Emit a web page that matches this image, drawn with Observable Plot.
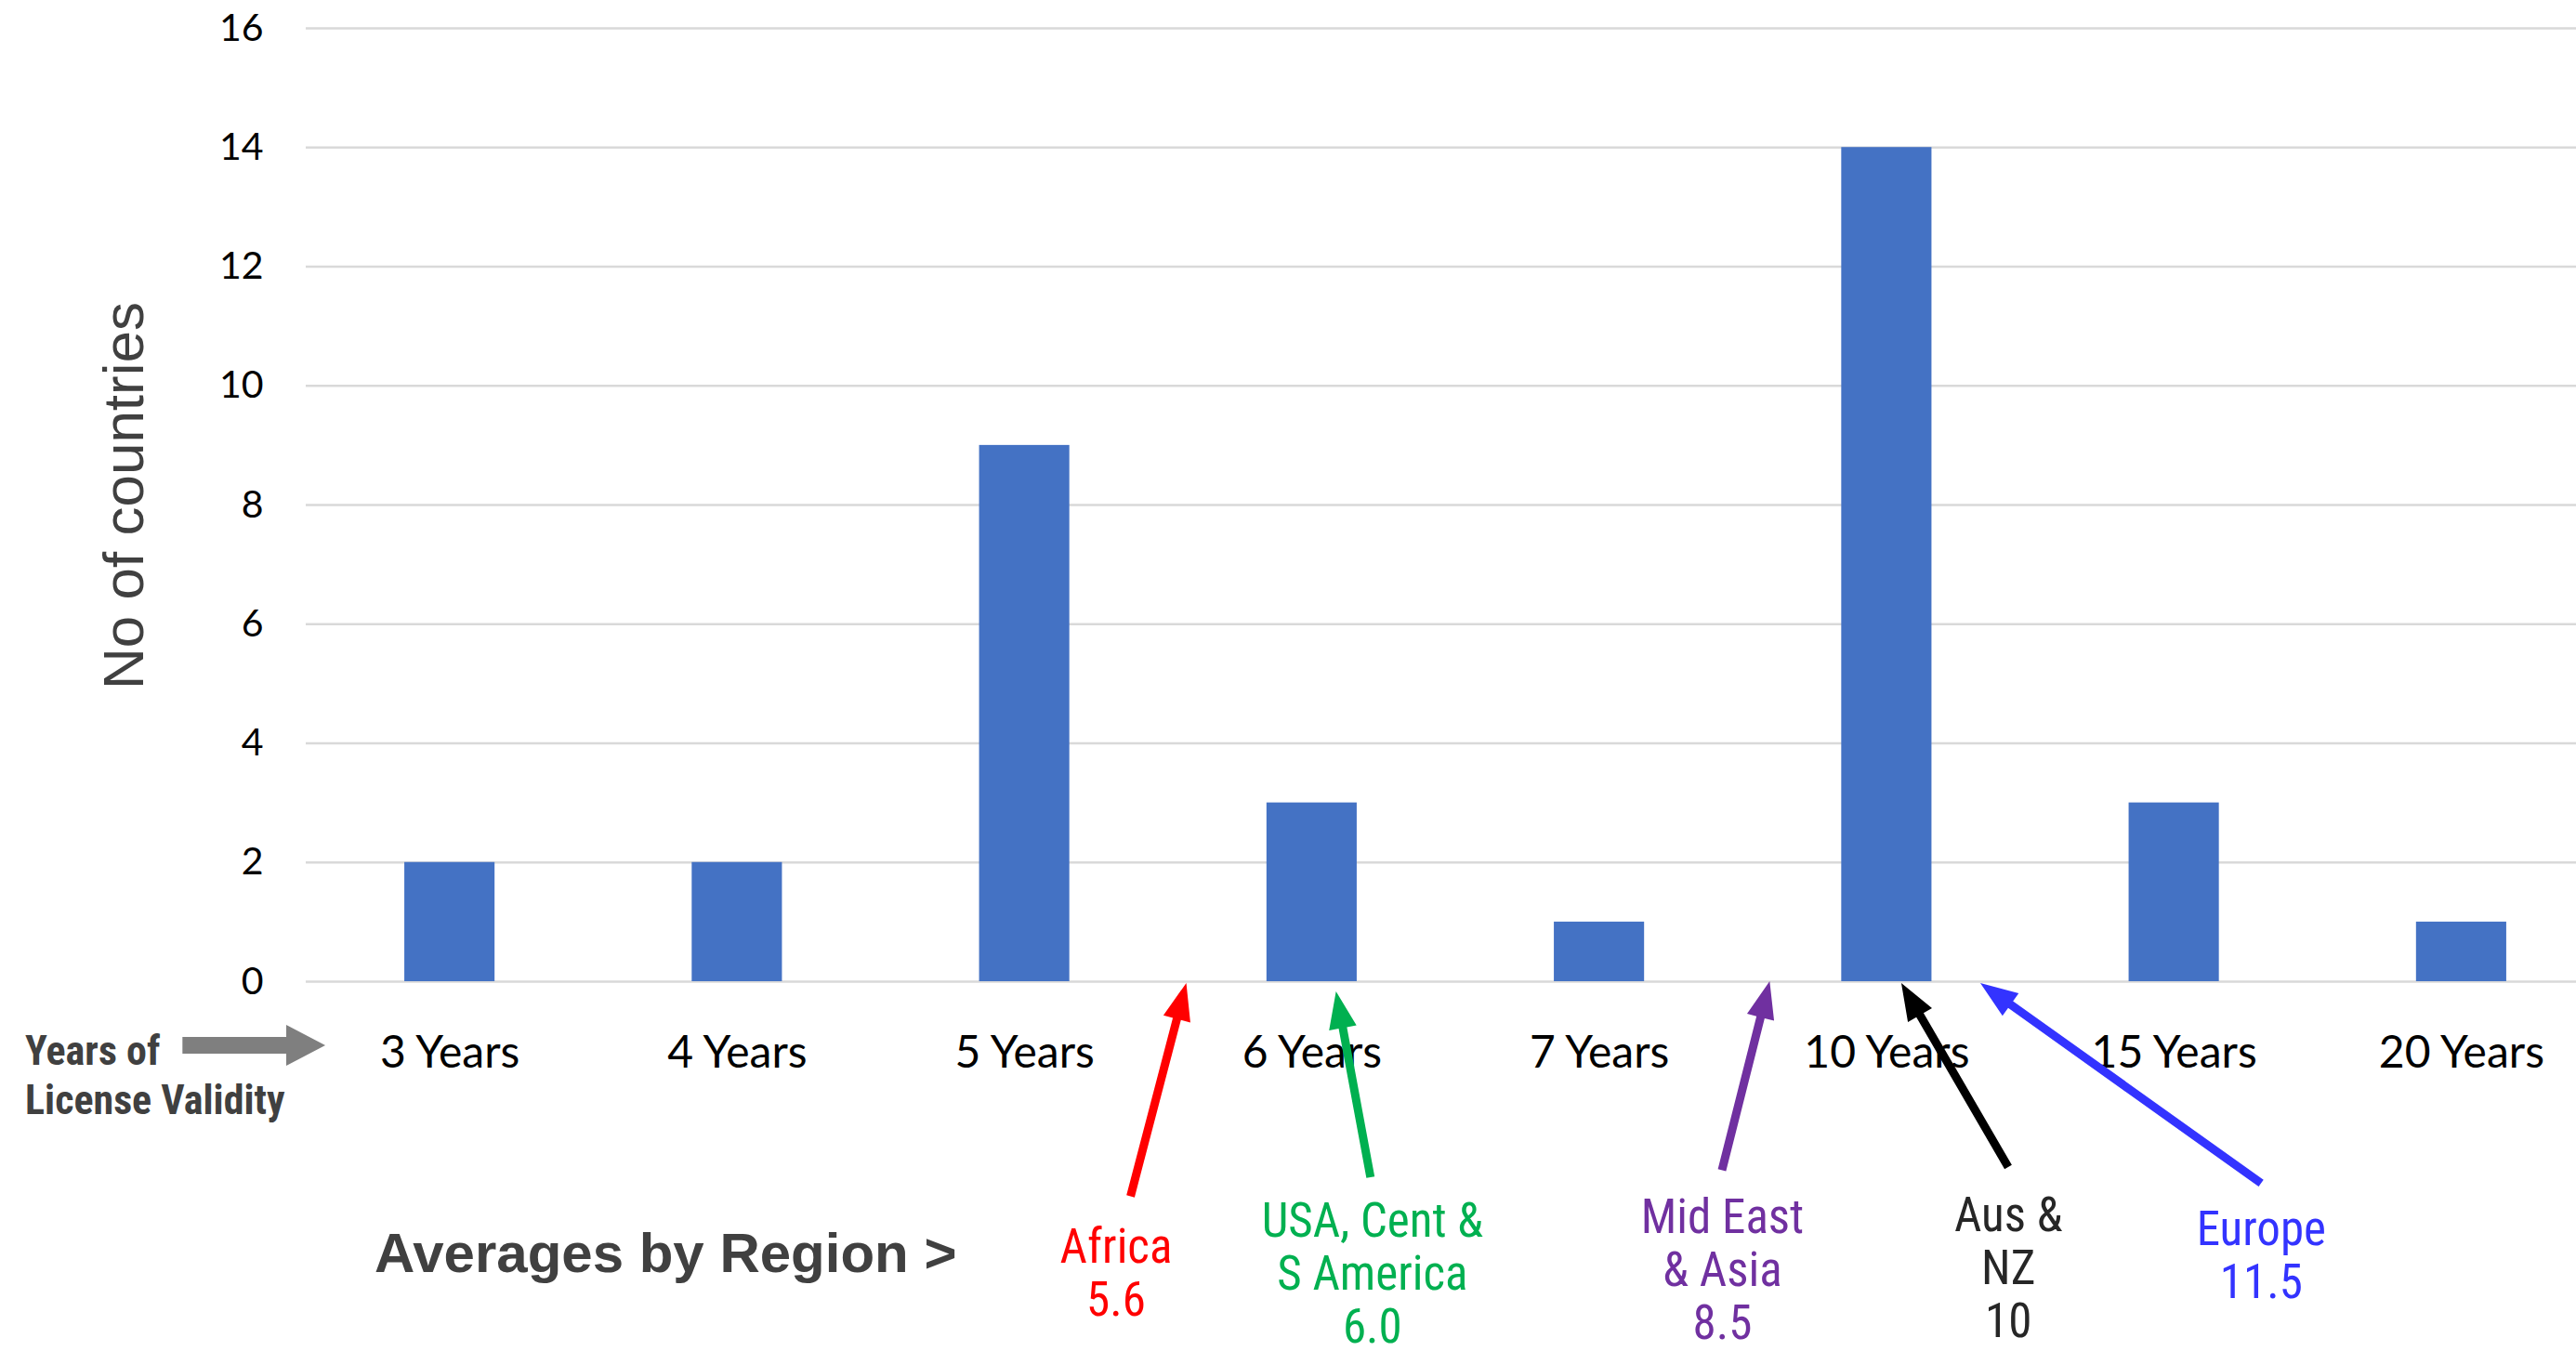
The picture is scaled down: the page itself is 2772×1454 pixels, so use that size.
<!DOCTYPE html>
<html>
<head>
<meta charset="utf-8">
<script src="https://cdn.jsdelivr.net/npm/d3@7"></script>
<script src="https://cdn.jsdelivr.net/npm/@observablehq/plot@0.6"></script>
<style>
html, body { margin: 0; padding: 0; background: #fff; }
#chart svg { display: block; }
</style>
</head>
<body>
<div id="chart"></div>
<script>
// ---- data ----
const categories = ["3 Years", "4 Years", "5 Years", "6 Years", "7 Years", "10 Years", "15 Years", "20 Years"];
const counts = [2, 2, 9, 3, 1, 14, 3, 1];
const yTicks = [0, 2, 4, 6, 8, 10, 12, 14, 16];
const yTitle = "No of countries";
const xTitle = "Years of\nLicense Validity";
const regionTitle = "Averages by Region >";
const regionNames = ["Africa", "USA, Cent &\nS America", "Mid East\n& Asia", "Aus &\nNZ", "Europe"];
const regionAverages = ["5.6", "6.0", "8.5", "10", "11.5"];

// ---- annotation anchors in chart units (x: category index, y: count) ----
const regionTipX = [2.564, 3.085, 4.594, 5.052, 5.327];
const regionTipY = [-0.03, -0.17, 0.0, -0.03, -0.03];
const regionTailX = [2.370, 3.205, 4.428, 5.424, 6.304];
const regionTailY = [-3.61, -3.29, -3.17, -3.12, -3.39];
const regionLabelX = [2.318, 3.210, 4.428, 5.423, 6.303];
const regionLabelY = [-4.87, -4.88, -4.82, -4.79, -4.58];
const xTitleAnchor = {x: -1.478, y: -1.545};
const regionTitleAnchor = {x: -0.262, y: -4.58};
const grayArrowAnchor = {x1: -0.929, x2: -0.432, y: -1.076};

// ---- styles ----
const regionColors = ["#ff0000", "#00b050", "#7030a0", "#000000", "#3333ff"];
const regionTextColors = ["#ff0000", "#00b050", "#7030a0", "#262626", "#3333ff"];
const narrow = "'Liberation Sans Narrow', 'Arial Narrow', 'Roboto Condensed', 'Liberation Sans', sans-serif";
const calibriLike = "Lato, 'Open Sans', sans-serif";

const bars = categories.map((c, i) => ({i, category: c, count: counts[i]}));
const regions = regionNames.map((n, i) => ({
  name: n, avg: regionAverages[i],
  tipX: regionTipX[i], tipY: regionTipY[i],
  tailX: regionTailX[i], tailY: regionTailY[i],
  labelX: regionLabelX[i], labelY: regionLabelY[i],
  color: regionColors[i], textColor: regionTextColors[i]
}));

function blockArrow({shaft, headLength, headWidth, color}) {
  return (index, scales, values) => {
    const {x1: X1, y1: Y1, x2: X2, y2: Y2, stroke: S} = values;
    const g = d3.create("svg:g");
    for (const i of index) {
      const x1 = X1[i], y1 = Y1[i], x2 = X2[i], y2 = Y2[i];
      const dx = x2 - x1, dy = y2 - y1, L = Math.hypot(dx, dy);
      const ux = dx / L, uy = dy / L, px = -uy, py = ux;
      const bx = x2 - ux * headLength, by = y2 - uy * headLength;
      const s = shaft / 2, h = headWidth / 2;
      const pts = [
        [x1 + px * s, y1 + py * s], [bx + px * s, by + py * s], [bx + px * h, by + py * h],
        [x2, y2],
        [bx - px * h, by - py * h], [bx - px * s, by - py * s], [x1 - px * s, y1 - py * s]
      ];
      g.append("polygon")
        .attr("points", pts.map(p => p.join(",")).join(" "))
        .attr("fill", color || (S ? S[i] : "#000"));
    }
    return g.node();
  };
}

const chart = Plot.plot({
  width: 2772,
  height: 1454,
  marginLeft: 329,
  marginRight: 0,
  marginTop: 30,
  marginBottom: 398,
  style: {background: "#fff", color: "#000", overflow: "visible"},
  x: {type: "linear", domain: [-0.5, 7.5], range: [329, 2803]},
  y: {domain: [0, 16]},
  marks: [
    Plot.ruleY(yTicks, {stroke: "#d9d9d9", strokeWidth: 2.5}),
    Plot.rectY(bars, {x1: d => d.i - 0.157, x2: d => d.i + 0.157, y: "count", fill: "#4472c4"}),
    Plot.axisY({ticks: yTicks, tickSize: 0, tickPadding: 46, fontSize: 41, fontFamily: calibriLike, label: null}),
    Plot.axisX({ticks: d3.range(categories.length), tickFormat: i => categories[i], tickSize: 0, tickPadding: 58, fontSize: 48, fontFamily: calibriLike, label: null}),
    Plot.text([yTitle], {frameAnchor: "left", textAnchor: "middle", dx: -195, dy: -10, rotate: -90, fontSize: 62, fill: "#404040", fontFamily: "'Liberation Sans', Arial, sans-serif"}),
    // gray block arrow
    Plot.link([grayArrowAnchor], {x1: "x1", x2: "x2", y1: "y", y2: "y", render: blockArrow({shaft: 18, headLength: 42, headWidth: 44, color: "#7f7f7f"})}),
    Plot.text([xTitle], {x: () => xTitleAnchor.x, y: () => xTitleAnchor.y, textAnchor: "start", lineHeight: 1.2, fontSize: 44, fontWeight: "bold", fill: "#404040", fontFamily: narrow}),
    Plot.text([regionTitle], {x: () => regionTitleAnchor.x, y: () => regionTitleAnchor.y, textAnchor: "start", fontSize: 60, fontWeight: "bold", fill: "#404040", fontFamily: "'Liberation Sans', Arial, sans-serif"}),
    // region arrows
    Plot.link(regions, {x1: "tailX", y1: "tailY", x2: "tipX", y2: "tipY", stroke: "color", render: blockArrow({shaft: 9, headLength: 40, headWidth: 30})}),
    Plot.text(regions, {x: "labelX", y: "labelY", text: d => d.name + "\n" + d.avg, fill: "textColor", fontSize: 51, lineHeight: 1.12, fontFamily: narrow})
  ]
});
document.getElementById("chart").append(chart);
</script>
</body>
</html>
